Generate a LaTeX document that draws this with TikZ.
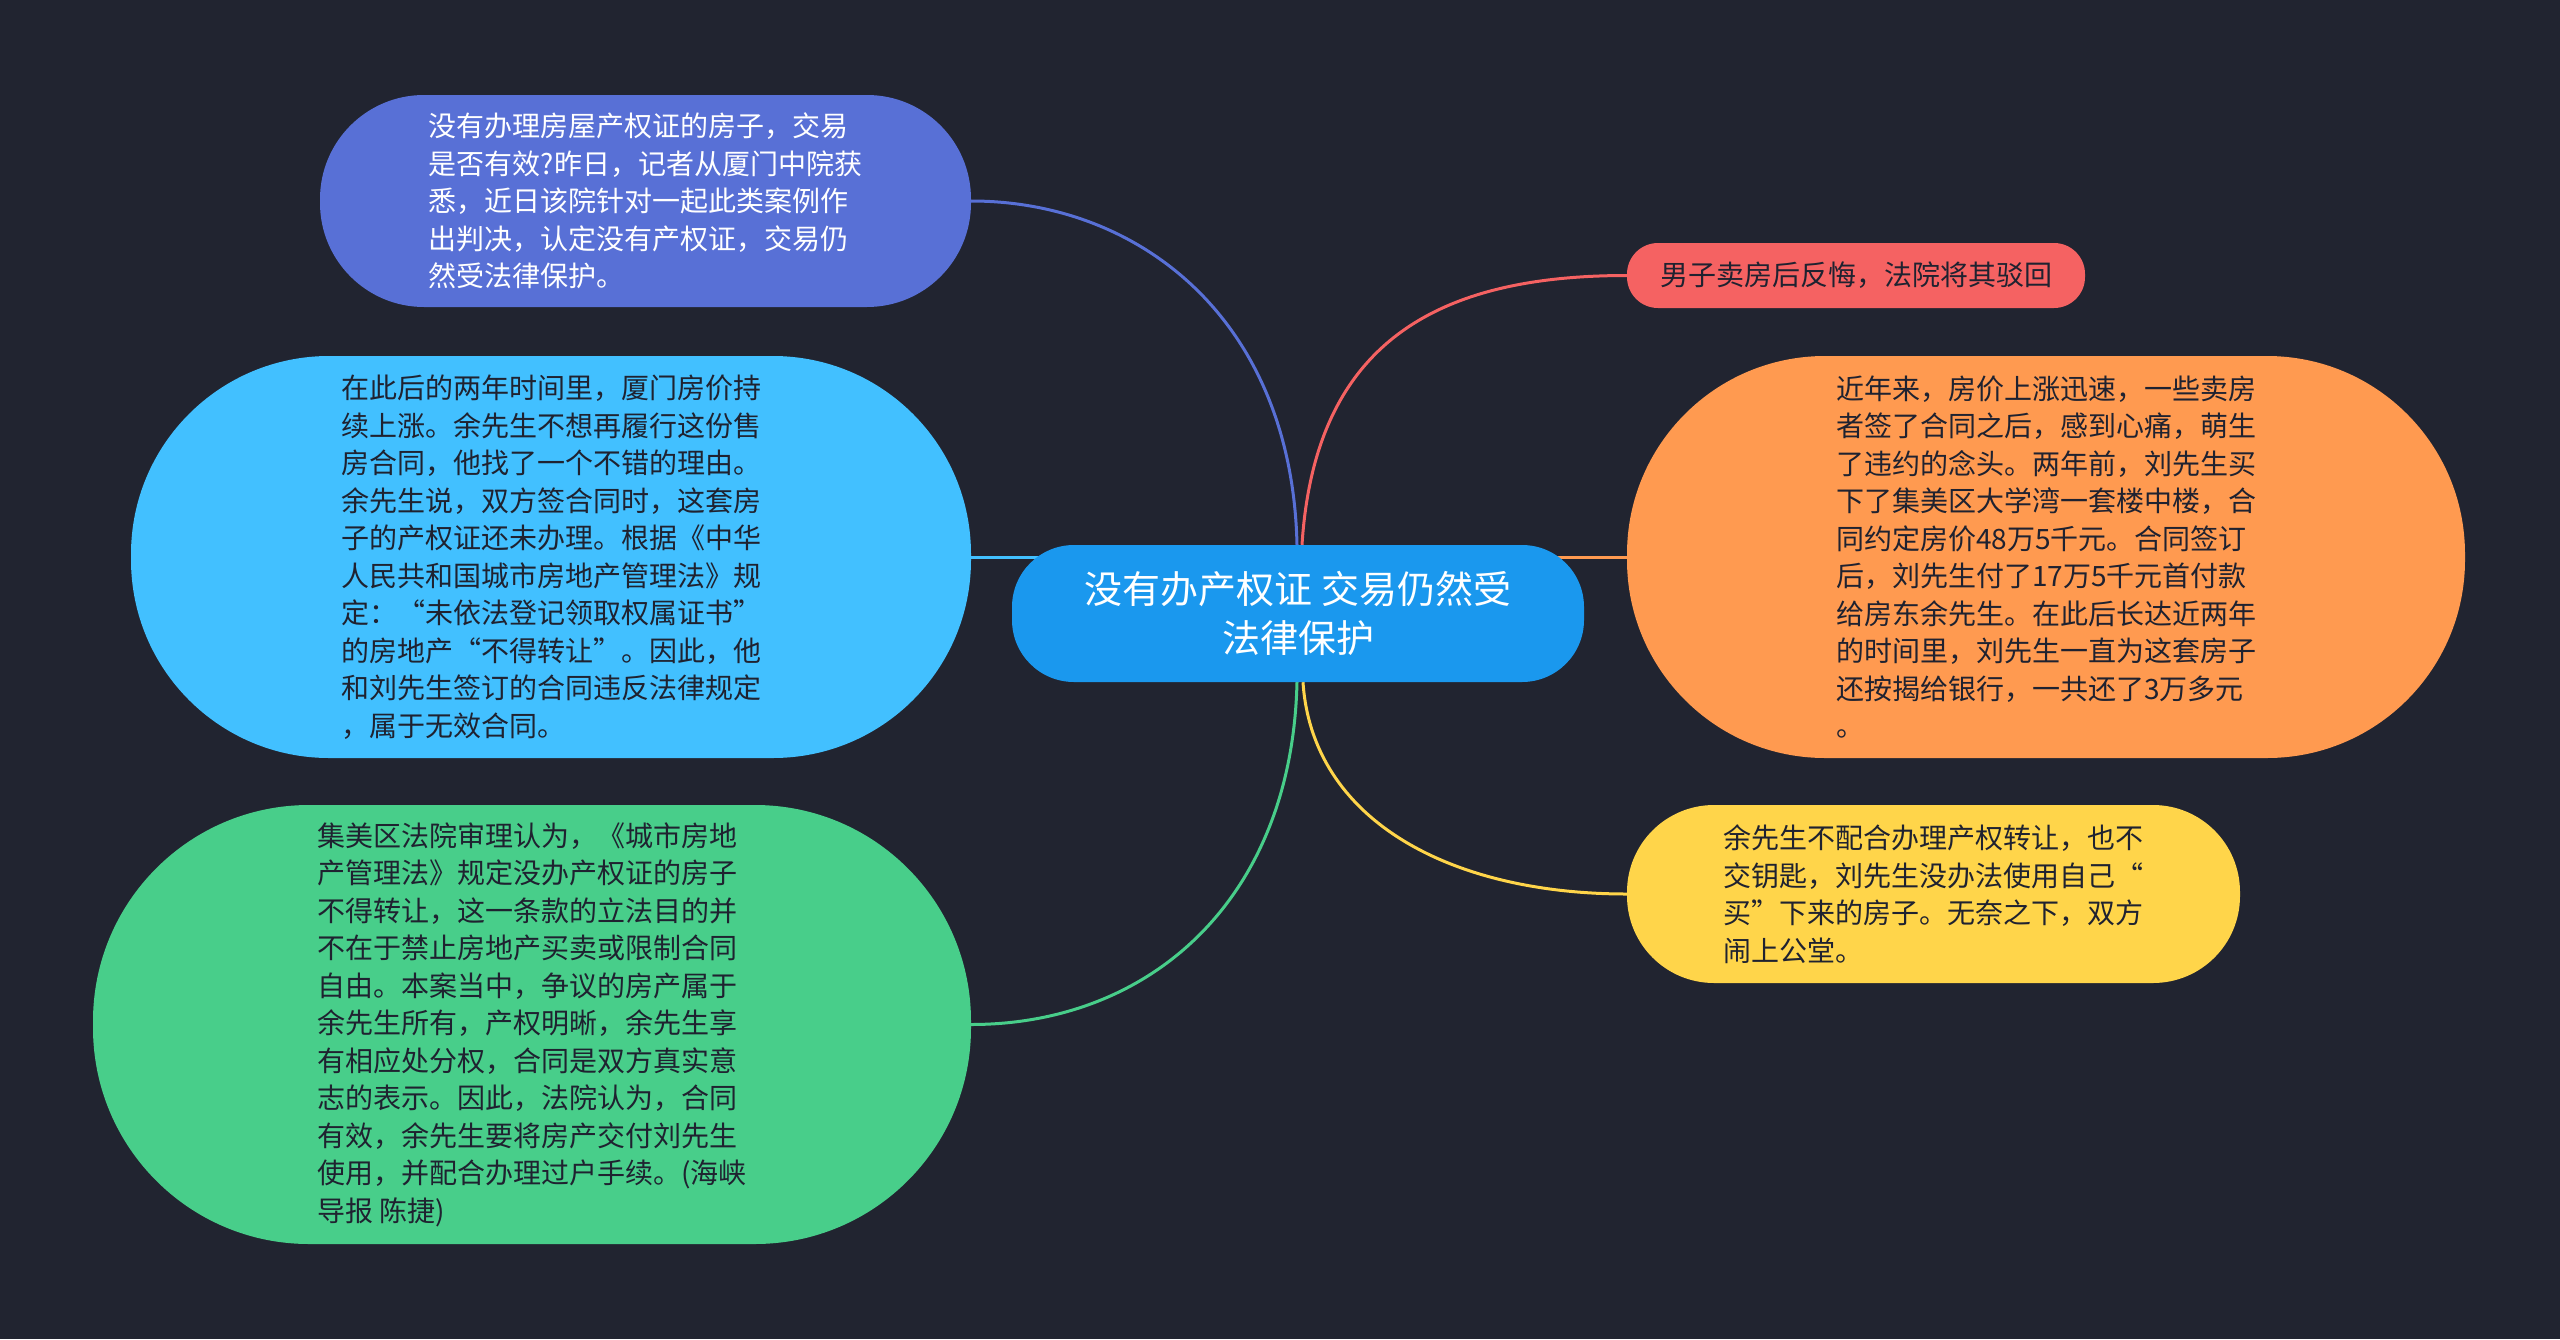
\documentclass[tikz,border=0pt]{standalone}
\usepackage{fontspec}
\newfontfamily\cjk{Noto Sans CJK SC}
\usetikzlibrary{calc}
\definecolor{bgc}{HTML}{212430}
\definecolor{ccenter}{HTML}{1A98EE}
\definecolor{cblue}{HTML}{5870D6}
\definecolor{clight}{HTML}{42C0FF}
\definecolor{cgreen}{HTML}{48CE8A}
\definecolor{cred}{HTML}{F56262}
\definecolor{corange}{HTML}{FF9A50}
\definecolor{cyellow}{HTML}{FFD54A}
\definecolor{ctext}{HTML}{1F2230}
\pgfdeclarelayer{bg}
\pgfsetlayers{bg,main}
\begin{document}
\begin{tikzpicture}[x=1pt,y=-1pt,
  box/.style={rectangle, draw=none, inner sep=0pt, align=left, text=ctext,
    font=\cjk\fontsize{28}{37.5}\selectfont},
  conn/.style={line width=3pt}]
\useasboundingbox (0,0) rectangle (2560,1339);

\node[rectangle, inner sep=0pt, align=center, fill=ccenter, text=white,
  minimum width=572pt, minimum height=137pt, rounded corners=62pt,
  font=\cjk\fontsize{38}{49}\selectfont] (c) at (1298,613.5)
  {没有办产权证 交易仍然受\\法律保护};

\node[box, fill=cblue, text=white, minimum width=651pt, minimum height=212pt,
  rounded corners=104pt] (n1) at (645.5,201)
  {没有办理房屋产权证的房子，交易\\是否有效?昨日，记者从厦门中院获\\悉，近日该院针对一起此类案例作\\出判决，认定没有产权证，交易仍\\然受法律保护。};

\node[box, fill=clight, minimum width=840pt, minimum height=402pt,
  rounded corners=198pt] (n2) at (551,557)
  {在此后的两年时间里，厦门房价持\\续上涨。余先生不想再履行这份售\\房合同，他找了一个不错的理由。\\余先生说，双方签合同时，这套房\\子的产权证还未办理。根据《中华\\人民共和国城市房地产管理法》规\\定：“未依法登记领取权属证书”\\的房地产“不得转让”。因此，他\\和刘先生签订的合同违反法律规定\\，属于无效合同。};

\node[box, fill=cgreen, minimum width=878pt, minimum height=439pt,
  rounded corners=216pt] (n3) at (532,1024.5)
  {集美区法院审理认为，《城市房地\\产管理法》规定没办产权证的房子\\不得转让，这一条款的立法目的并\\不在于禁止房地产买卖或限制合同\\自由。本案当中，争议的房产属于\\余先生所有，产权明晰，余先生享\\有相应处分权，合同是双方真实意\\志的表示。因此，法院认为，合同\\有效，余先生要将房产交付刘先生\\使用，并配合办理过户手续。(海峡\\导报 陈捷)};

\node[box, fill=cred, minimum width=458pt, minimum height=65pt,
  rounded corners=31pt] (r) at (1856,275.5)
  {男子卖房后反悔，法院将其驳回};

\node[box, fill=corange, minimum width=838pt, minimum height=402pt,
  rounded corners=198pt] (o) at (2046,557)
  {近年来，房价上涨迅速，一些卖房\\者签了合同之后，感到心痛，萌生\\了违约的念头。两年前，刘先生买\\下了集美区大学湾一套楼中楼，合\\同约定房价48万5千元。合同签订\\后，刘先生付了17万5千元首付款\\给房东余先生。在此后长达近两年\\的时间里，刘先生一直为这套房子\\还按揭给银行，一共还了3万多元\\。};

\node[box, fill=cyellow, minimum width=613pt, minimum height=178pt,
  rounded corners=87pt] (ny) at (1933.5,894)
  {余先生不配合办理产权转让，也不\\交钥匙，刘先生没办法使用自己“\\买”下来的房子。无奈之下，双方\\闹上公堂。};

\begin{pgfonlayer}{bg}
\fill[bgc] (0,0) rectangle (2560,1339);
\draw[conn, cblue] ($(c.north)+(-1,0)$) .. controls (1292,320) and (1140,201) .. (n1.east);
\draw[conn, clight] (c.center |- n2.east) -- (n2.east);
\draw[conn, cgreen] ($(c.south)+(-1,0)$) .. controls (1292,900) and (1150,1024.5) .. (n3.east);
\draw[conn, cred] ($(c.north)+(4,0)$) .. controls (1315,340) and (1440,275.5) .. (r.west);
\draw[conn, corange] (c.center |- o.west) -- (o.west);
\draw[conn, cyellow] ($(c.south)+(5,0)$) .. controls (1312,820) and (1450,894) .. (ny.west);
\end{pgfonlayer}
\end{tikzpicture}
\end{document}
